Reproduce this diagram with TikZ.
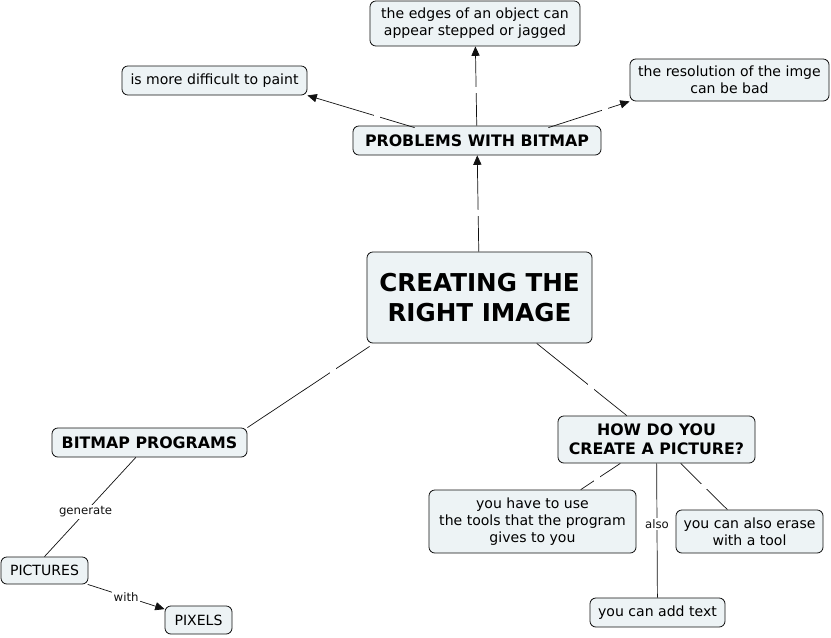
\documentclass[tikz,border=0pt]{standalone}
\usepackage{fontspec}
\setmainfont{DejaVu Sans}
\usetikzlibrary{arrows.meta, positioning}
\definecolor{MapFill}{HTML}{EDF3F5}
\definecolor{MapLine}{HTML}{111111}
\tikzset{
    concept/.style={
        draw=MapLine,
        line width=0.7pt,
        fill=MapFill,
        rounded corners=5pt,
        align=center,
        inner sep=2pt,
        font=\fontsize{12}{14.5}\selectfont
    },
    bigconcept/.style={
        concept,
        font=\fontsize{13.5}{16}\selectfont\bfseries
    },
    link/.style={
        MapLine,
        line width=0.6pt
    },
    linkarrow/.style={
        link,
        -{Triangle[length=8pt,width=7pt]}
    },
    gapmark/.style={
        fill=white,
        inner sep=0pt,
        minimum size=5pt
    },
    linkword/.style={
        fill=white,
        inner sep=1.5pt,
        font=\fontsize{10}{12}\selectfont
    }
}
\begin{document}
\begin{tikzpicture}[x=0.03cm, y=-0.03cm]
        \useasboundingbox (0,0) rectangle (831,637);

        % Main concept
        \node[bigconcept, minimum width=6.75cm, minimum height=2.73cm,
              font=\fontsize{21}{26}\selectfont\bfseries] (image) at (479.5,297.5) {CREATING THE\\RIGHT IMAGE};

        % Problems branch
        \node[bigconcept, minimum width=7.44cm, minimum height=0.87cm] (problems) at (477,140.5) {PROBLEMS WITH BITMAP};
        \node[concept, minimum width=6.3cm, minimum height=1.35cm] (edges) at (475,23.5) {the edges of an object can\\appear stepped or jagged};
        \node[concept, minimum width=5.55cm, minimum height=0.87cm] (paint) at (214.5,80.5) {is more difficult to paint};
        \node[concept, minimum width=5.97cm, minimum height=1.26cm] (resolution) at (729.5,80) {the resolution of the imge\\can be bad};

        % Bitmap programs branch
        \node[bigconcept, minimum width=5.85cm, minimum height=0.87cm] (programs) at (149.5,442.5) {BITMAP PROGRAMS};
        \node[concept, minimum width=2.61cm, minimum height=0.81cm] (pictures) at (44.5,570.5) {PICTURES};
        \node[concept, minimum width=2.01cm, minimum height=0.84cm] (pixels) at (198.5,620) {PIXELS};

        % How do you create branch
        \node[bigconcept, minimum width=5.91cm, minimum height=1.41cm] (create) at (656.5,439.5) {HOW DO YOU\\CREATE A PICTURE?};
        \node[concept, minimum width=6.21cm, minimum height=1.89cm] (tools) at (532.5,521.5) {you have to use\\the tools that the program\\gives to you};
        \node[concept, minimum width=4.41cm, minimum height=1.29cm] (erase) at (749.5,531.5) {you can also erase\\with a tool};
        \node[concept, minimum width=4.05cm, minimum height=0.87cm] (text) at (657.5,612.5) {you can add text};

        % Connectors
        \draw[linkarrow] (image) -- node[gapmark, pos=0.4] {} (problems);
        \draw[linkarrow] (problems) -- node[gapmark, pos=0.45] {} (edges);
        \draw[linkarrow] (problems.north west) ++(62,2) coordinate (pl) -- node[gapmark, pos=0.35] {} (paint.south east);
        \draw[linkarrow] (problems.north east) ++(-53,2) coordinate (pr) -- node[gapmark, pos=0.7] {} (resolution.south west);
        \draw[link] (image.south west) ++(3,3) coordinate (il) -- node[gapmark, pos=0.3] {} (programs.north east) ++(-60,0);
        \draw[link] (image) -- node[gapmark, pos=0.6] {} (create);
        \draw[link] (programs) -- node[linkword, pos=0.55] {generate} (pictures.north) ++(15,0);
        \draw[linkarrow] (pictures) -- node[linkword] {with} (pixels);
        \draw[link] (create) -- node[gapmark, pos=0.6] {} (tools);
        \draw[link] (create) -- node[gapmark, pos=0.5] {} (erase);
        \draw[link] (create) -- node[linkword, pos=0.45] {also} (text);
    \end{tikzpicture}
\end{document}
